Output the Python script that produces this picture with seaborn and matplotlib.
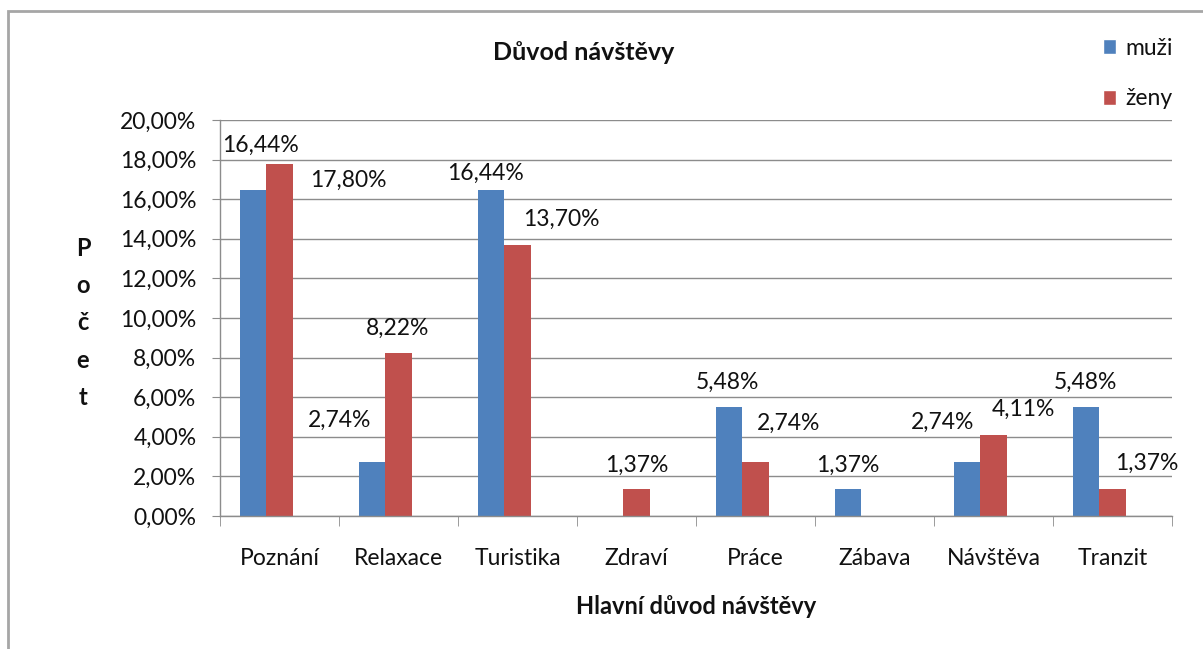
import pandas as pd
import matplotlib.pyplot as plt
import seaborn as sns
from matplotlib.patches import Patch, Rectangle
from matplotlib.ticker import FuncFormatter, FixedLocator

# -------------------------
# Data
# -------------------------
duvody = ["Poznání", "Relaxace", "Turistika", "Zdraví", "Práce", "Zábava", "Návštěva", "Tranzit"]
muzi = [16.44, 2.74, 16.44, 0, 5.48, 1.37, 2.74, 5.48]
zeny = [17.80, 8.22, 13.70, 1.37, 2.74, 0, 4.11, 1.37]
skupiny = ["muži", "ženy"]

# posun popisku (px) od vrcholu sloupce - popisky byly v puvodnim grafu rucne posunute
posun_muzi = [(7, 45), (-32, 41), (-6, 17), None, (-2, 25), (0, 24), (-24, 39), (-1, 25)]
posun_zeny = [(69, -17), (-1, 25), (44, 25), (0, 24), (33, 38), None, (30, 25), (34, 26)]

df = pd.DataFrame({
    "duvod": duvody * 2,
    "pohlavi": [skupiny[0]] * len(duvody) + [skupiny[1]] * len(duvody),
    "procenta": muzi + zeny,
})

# -------------------------
# Style
# -------------------------
sns.set_style("white")
plt.rcParams["font.family"] = ["Lato", "DejaVu Sans"]
seda = "#8C8C8C"
text_barva = "#111111"
barvy = {"muži": "#4F81BD", "ženy": "#C0504D", "prázdná": "white"}
W, H = 1203, 649

fig = plt.figure(figsize=(W / 100, H / 100), dpi=100)
ax = fig.add_axes([220 / W, (H - 516) / H, (1172 - 220) / W, (516 - 120) / H])

# treti prazdna rada drzi misto jako v Excelu
sns.barplot(data=df, x="duvod", y="procenta", hue="pohlavi",
            order=duvody, hue_order=skupiny + ["prázdná"], palette=barvy,
            saturation=1, width=0.668, gap=0, linewidth=0, legend=False, ax=ax)

ax.set_xlim(-0.5, len(duvody) - 0.5)
ax.set_ylim(0, 20)
ax.yaxis.set_major_locator(FixedLocator(range(0, 21, 2)))
ax.yaxis.set_major_formatter(FuncFormatter(lambda v, p: f"{v:.2f}%".replace(".", ",")))
ax.grid(axis="y", color=seda, linewidth=1)
ax.set_axisbelow(True)
for s in ["top", "right"]:
    ax.spines[s].set_visible(False)
for s in ["left", "bottom"]:
    ax.spines[s].set_color(seda)
    ax.spines[s].set_linewidth(1)

ax.tick_params(axis="y", length=6, color=seda, pad=11, labelsize=16.5,
               labelcolor=text_barva, left=True)
ax.tick_params(axis="x", which="major", length=0, pad=23, labelsize=16.5,
               labelcolor=text_barva)
ax.set_xticks([i - 0.5 for i in range(len(duvody) + 1)], minor=True)
ax.tick_params(axis="x", which="minor", length=7, color=seda, bottom=True)
ax.set_xlabel("")
ax.set_ylabel("")

# -------------------------
# Data labels
# -------------------------
for cont, hodnoty, posuny in zip(ax.containers, [muzi, zeny], [posun_muzi, posun_zeny]):
    for bar, v, pos in zip(cont, hodnoty, posuny):
        if pos is None:
            continue
        ax.annotate(f"{v:.2f}%".replace(".", ","),
                    xy=(bar.get_x() + bar.get_width() / 2, bar.get_height()),
                    xytext=pos, textcoords="offset pixels",
                    ha="center", va="center", fontsize=16.5, color=text_barva)

# -------------------------
# Titles, axis texts, legend
# -------------------------
fig.text(584 / W, 1 - 52 / H, "Důvod návštěvy", ha="center", va="center",
         fontsize=18, fontweight="bold", color=text_barva)
fig.text(696 / W, 1 - 606 / H, "Hlavní důvod návštěvy", ha="center", va="center",
         fontsize=17, fontweight="bold", color=text_barva)
fig.text(83 / W, 1 - 323 / H, "P\no\nč\ne\nt", ha="center", va="center",
         fontsize=17, fontweight="bold", linespacing=1.75, color=text_barva)

handles = [Patch(facecolor=barvy[s], label=s) for s in skupiny]
fig.legend(handles=handles, loc="upper left", bbox_to_anchor=(1082 / W, 1 - 17 / H),
           frameon=False, fontsize=16.5, handlelength=0.6, handleheight=0.6,
           handletextpad=0.4, labelspacing=1.3, labelcolor=text_barva)

# ramecek grafu
fig.add_artist(Rectangle((8 / W, -0.1), 1.2, 1.1 - 11 / H, transform=fig.transFigure,
                         fill=False, edgecolor="#A6A6A6", linewidth=2, clip_on=False))

fig.savefig("out.png", dpi=100)
